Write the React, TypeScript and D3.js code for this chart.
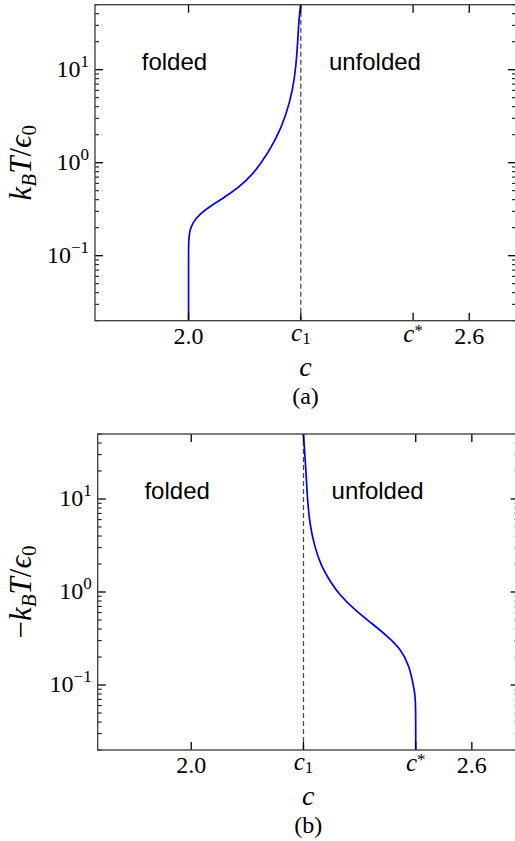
import React from 'react';
import * as d3 from 'd3';

// Critical concentrations
const C1 = 2.24;
const C_STAR = 2.48;

// Axis settings
const xDomain = [1.8, 2.7];
const yDomain = [0.02, 50];
const xTickValues = [2.0, C1, C_STAR, 2.6];
const xTickLabels = ['2.0', 'c_1', 'c^*', '2.6'];
const yMajorExponents = [-1, 0, 1];

// Phase boundary, positive temperature branch (panel a)
const boundaryAC = [2.0, 2.0, 2.0, 2.0, 2.002, 2.009, 2.0235, 2.052, 2.0876, 2.123, 2.152, 2.1875, 2.209, 2.223, 2.23, 2.2336, 2.2358, 2.2395];
const boundaryAT = [0.02, 0.05, 0.1, 0.14, 0.185, 0.227, 0.279, 0.357, 0.457, 0.635, 0.92, 1.78, 3.3, 6.1, 11.3, 21, 34, 50];

// Phase boundary, negative temperature branch (panel b), plotted as -k_B T / eps_0
const boundaryBC = [2.24, 2.2443, 2.248, 2.253, 2.2636, 2.278, 2.2993, 2.317, 2.349, 2.385, 2.42, 2.449, 2.4667, 2.4738, 2.4775, 2.4792, 2.48, 2.48];
const boundaryBT = [50, 24.4, 10.7, 5.5, 3.09, 1.88, 1.25, 0.935, 0.645, 0.464, 0.333, 0.24, 0.158, 0.105, 0.085, 0.07, 0.05, 0.02];

// Region labels: [text, c, T]
const regionLabels: [string, number, number][] = [
  ['folded', 1.9, 10],
  ['unfolded', 2.3, 10],
];

const SERIF =
  "'Liberation Serif', 'DejaVu Serif', Tinos, 'Noto Serif', FreeSerif, 'Nimbus Roman', 'Times New Roman', Times, Georgia, serif";
const SANS = "'Liberation Sans', Arial, Helvetica, sans-serif";

function minorTicks(): number[] {
  const out: number[] = [];
  for (let e = -2; e <= 1; e++) {
    for (let k = 2; k <= 9; k++) {
      const v = k * Math.pow(10, e);
      if (v >= yDomain[0] - 1e-9 && v <= yDomain[1] + 1e-9) out.push(v);
    }
  }
  return out;
}

function XTickLabel({ label, x, y }: { label: string; x: number; y: number }) {
  if (label.includes('_')) {
    const [m, s] = label.split('_');
    return (
      <text x={x} y={y - 3} textAnchor="middle" style={{ fontFamily: SERIF }} fontSize={25}>
        <tspan fontStyle="italic">{m}</tspan>
        <tspan fontSize={17} dy={3}>{s}</tspan>
      </text>
    );
  }
  if (label.includes('^')) {
    const [m, s] = label.split('^');
    return (
      <text x={x} y={y - 2} textAnchor="middle" style={{ fontFamily: SERIF }} fontSize={25}>
        <tspan fontStyle="italic">{m}</tspan>
        <tspan fontSize={17} dy={-6}>{s}</tspan>
      </text>
    );
  }
  return (
    <text x={x} y={y} textAnchor="middle" style={{ fontFamily: SERIF }} fontSize={24}>
      {label}
    </text>
  );
}

type PanelProps = {
  x0: number;
  x1: number;
  y0: number;
  y1: number;
  cs: number[];
  ts: number[];
  negative: boolean;
  caption: string;
};

function Panel({ x0, x1, y0, y1, cs, ts, negative, caption }: PanelProps) {
  const x = d3.scaleLinear().domain(xDomain).range([x0, x1]);
  const y = d3.scaleLog().domain(yDomain).range([y1, y0]);
  // order points top to bottom on screen
  const pts: [number, number][] = cs
    .map((c, i) => [c, ts[i]] as [number, number])
    .sort((a, b) => b[1] - a[1]);
  const line = d3
    .line<[number, number]>()
    .x((d) => x(d[0]))
    .y((d) => y(d[1]))
    .curve(d3.curveBasis);
  const minors = minorTicks();
  const majorLen = 8;
  const minorLen = 4;
  const cx = (x0 + x1) / 2;
  const cy = (y0 + y1) / 2;

  return (
    <g>
      <defs>
        <clipPath id={`clip-${caption}`}>
          <rect x={x0} y={y0} width={x1 - x0} height={y1 - y0} />
        </clipPath>
      </defs>
      {/* critical concentration c1 */}
      <line x1={x(C1)} x2={x(C1)} y1={y1} y2={y0} stroke="#4a4a4a" strokeWidth={1.3} strokeDasharray="5 3" />
      <path d={line(pts) || ''} fill="none" stroke="#0000ff" strokeWidth={1.7} clipPath={`url(#clip-${caption})`} />

      {regionLabels.map(([t, c, v]) => (
        <text key={t} x={x(c)} y={y(v)} style={{ fontFamily: SANS }} fontSize={24} fill="#000">
          {t}
        </text>
      ))}

      {/* x ticks, bottom and top */}
      {xTickValues.map((v, i) => (
        <g key={`xt${i}`}>
          <line x1={x(v)} x2={x(v)} y1={y1} y2={y1 - majorLen} stroke="#000" strokeWidth={1.3} />
          <line x1={x(v)} x2={x(v)} y1={y0} y2={y0 + majorLen} stroke="#000" strokeWidth={1.3} />
          <XTickLabel label={xTickLabels[i]} x={x(v)} y={y1 + 23} />
        </g>
      ))}

      {/* y ticks, left and right */}
      {yMajorExponents.map((e) => {
        const v = Math.pow(10, e);
        const py = y(v);
        return (
          <g key={`ym${e}`}>
            <line x1={x0} x2={x0 + majorLen} y1={py} y2={py} stroke="#000" strokeWidth={1.3} />
            <line x1={x1} x2={x1 - majorLen} y1={py} y2={py} stroke="#000" strokeWidth={1.3} />
            <text x={x0 - 6} y={py + 7} textAnchor="end" style={{ fontFamily: SERIF }} fontSize={24}>
              10
              <tspan fontSize={17} dy={-10}>
                {e < 0 ? `\u2212${-e}` : `${e}`}
              </tspan>
            </text>
          </g>
        );
      })}
      {minors.map((v, i) => (
        <g key={`yn${i}`}>
          <line x1={x0} x2={x0 + minorLen} y1={y(v)} y2={y(v)} stroke="#000" strokeWidth={1} />
          <line x1={x1} x2={x1 - minorLen} y1={y(v)} y2={y(v)} stroke="#000" strokeWidth={1} />
        </g>
      ))}

      <rect x={x0} y={y0} width={x1 - x0} height={y1 - y0} fill="none" stroke="#3a3a3a" strokeWidth={1.3} />

      {/* axis titles */}
      <text x={cx} y={y1 + 55} textAnchor="middle" style={{ fontFamily: SERIF }} fontStyle="italic" fontSize={28}>
        c
      </text>
      <text
        transform={`translate(31, ${cy}) rotate(-90)`}
        textAnchor="middle"
        style={{ fontFamily: SERIF }}
        fontSize={31}
      >
        {negative ? <tspan>{'\u2212'}</tspan> : null}
        <tspan fontStyle="italic">k</tspan>
        <tspan fontStyle="italic" fontSize={21} dy={5}>B</tspan>
        <tspan fontStyle="italic" dy={-5}>T</tspan>
        <tspan>/</tspan>
        <tspan fontStyle="italic">{'\u03f5'}</tspan>
        <tspan fontSize={21} dy={5}>0</tspan>
      </text>
      <text x={cx} y={y1 + 83} textAnchor="middle" style={{ fontFamily: SERIF }} fontSize={24}>
        {caption}
      </text>
    </g>
  );
}

export default function App() {
  return (
    <svg
      width={515}
      height={841}
      style={{ position: 'absolute', left: 0, top: 0, background: '#fff' }}
    >
      <rect x={0} y={0} width={515} height={841} fill="#fff" />
      <Panel x0={95} x1={516} y0={4.7} y1={320.7} cs={boundaryAC} ts={boundaryAT} negative={false} caption="(a)" />
      <Panel x0={97.7} x1={518.6} y0={434} y1={750} cs={boundaryBC} ts={boundaryBT} negative={true} caption="(b)" />
    </svg>
  );
}
